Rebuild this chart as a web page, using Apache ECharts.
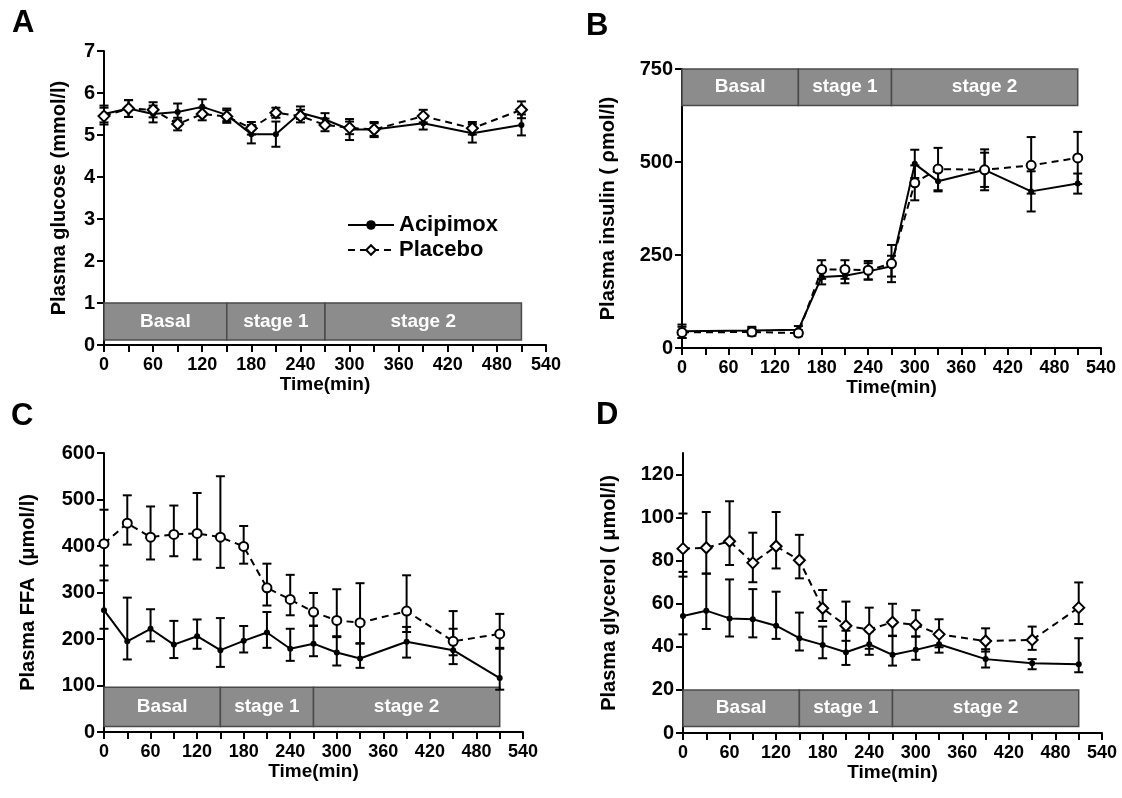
<!DOCTYPE html>
<html><head><meta charset="utf-8">
<script src="https://cdn.jsdelivr.net/npm/echarts@6/dist/echarts.min.js"></script>
<style>html,body{margin:0;padding:0;background:#fff}#c{width:1122px;height:798px}</style>
</head><body><div id="c"></div>
<script>
// ---------- data ----------
const timesFull = [0,30,60,90,120,150,180,210,240,270,300,330,390,450,510];
const timesIns  = [0,90,150,180,210,240,270,300,330,390,450,510];

const stageNames  = ['Basal','stage 1','stage 2'];
const stageBounds = [0,150,270,510];

// A: plasma glucose (mmol/l)
const gluAci    = [5.50,5.63,5.50,5.55,5.67,5.48,5.02,5.02,5.53,5.37,5.13,5.13,5.28,5.04,5.24];
const gluAciErr = [0.20,0.20,0.20,0.20,0.18,0.15,0.22,0.30,0.15,0.15,0.25,0.18,0.15,0.22,0.25];
const gluPla    = [5.45,5.63,5.60,5.26,5.50,5.44,5.16,5.53,5.45,5.24,5.17,5.13,5.45,5.16,5.60];
const gluPlaErr = [0.20,0.20,0.18,0.15,0.15,0.15,0.15,0.12,0.15,0.15,0.15,0.15,0.15,0.15,0.20];

// B: plasma insulin (pmol/l)
const insAci    = [45,47,49,191,194,206,220,495,448,479,421,442];
const insAciErr = [18,10,10,20,20,22,28,38,27,46,54,27];
const insPla    = [42,43,40,211,211,209,227,444,481,479,491,511];
const insPlaErr = [15,10,8,25,25,25,50,47,57,55,76,70];

// C: plasma FFA (umol/l)
const ffaAci   = [262,195,222,188,206,176,196,214,179,190,171,158,194,176,116];
const ffaAciUp = [64,94,42,51,36,69,32,44,43,38,35,33,32,46,65];
const ffaAciDn = [40,39,27,29,27,36,25,33,26,27,28,20,34,30,25];
const ffaPla   = [405,449,419,425,427,419,399,310,285,258,240,235,260,195,211];
const ffaPlaUp = [73,60,66,62,87,131,44,52,53,41,67,85,77,65,43];
const ffaPlaDn = [47,46,48,47,56,66,37,38,34,29,36,45,45,30,32];

// D: plasma glycerol (umol/l)
const glyAci   = [54.3,56.8,53.2,52.8,49.8,44.0,40.9,37.5,41.2,36.3,38.6,41.2,34.3,32.4,31.9];
const glyAciUp = [20.5,17.2,18.1,14.0,15.8,11.9,8.5,10.0,6.0,8.9,6.2,4.0,4.6,1.9,12.1];
const glyAciDn = [8.5,8.5,8.4,8.4,6.1,5.7,6.2,5.9,4.9,5.0,4.6,3.9,3.9,2.8,3.7];
const glyPla   = [85.6,86.0,89.0,79.0,86.7,80.2,57.9,49.8,48.1,51.4,50.2,45.8,42.7,43.2,58.2];
const glyPlaUp = [16.3,16.6,18.6,14.0,15.9,11.8,8.5,11.2,10.1,8.6,6.8,7.0,5.9,6.2,11.7];
const glyPlaDn = [13.0,12.0,11.0,9.0,10.3,8.4,5.9,7.0,9.0,6.4,5.4,6.0,4.9,4.6,7.6];

// ---------- chart ----------
const FONT = '"Liberation Sans", Arial, Helvetica, sans-serif';

const panels = [
  {grid:{left:104, top:51, width:442, height:294}, yMax:7, yInt:1, yTicks:[0,1,2,3,4,5,6,7],
   yName:'Plasma glucose (mmol/l)', nameGap:35, band:[0.12,1.0], symbol:'diamond',
   times:timesFull, aci:[gluAci,gluAciErr,gluAciErr], pla:[gluPla,gluPlaErr,gluPlaErr]},
  {grid:{left:682, top:69, width:419, height:279}, yMax:750, yInt:250, yTicks:[0,250,500,750],
   yName:'Plasma insulin ( \u03c1mol/l)', nameGap:64, band:[652,750], symbol:'circle',
   times:timesIns, aci:[insAci,insAciErr,insAciErr], pla:[insPla,insPlaErr,insPlaErr]},
  {grid:{left:104, top:453, width:419, height:279}, yMax:600, yInt:100, yTicks:[0,100,200,300,400,500,600],
   yName:'Plasma FFA  (\u03bcmol/l)', nameGap:66, band:[12,96], symbol:'circle',
   times:timesFull, aci:[ffaAci,ffaAciUp,ffaAciDn], pla:[ffaPla,ffaPlaUp,ffaPlaDn]},
  {grid:{left:683, top:453, width:419, height:280}, yMax:130, yInt:20, yTicks:[0,20,40,60,80,100,120],
   yName:'Plasma glycerol ( \u03bcmol/l)', nameGap:64, band:[3,20], symbol:'diamond',
   times:timesFull, aci:[glyAci,glyAciUp,glyAciDn], pla:[glyPla,glyPlaUp,glyPlaDn]}
];

function errSeries(gi, name, times, mean, up, dn) {
  return {
    type:'custom', name:name, xAxisIndex:gi, yAxisIndex:gi, z:3, silent:true,
    data: times.map((t,i)=>[t, mean[i]-dn[i], mean[i]+up[i]]),
    encode:{x:0, y:[1,2]},
    renderItem(params, api) {
      const lo = api.coord([api.value(0), api.value(1)]);
      const hi = api.coord([api.value(0), api.value(2)]);
      const w = 4.5;
      const style = {stroke:'#000', lineWidth:2, fill:null};
      return {type:'group', children:[
        {type:'line', shape:{x1:lo[0],y1:lo[1],x2:hi[0],y2:hi[1]}, style:style},
        {type:'line', shape:{x1:lo[0]-w,y1:lo[1],x2:lo[0]+w,y2:lo[1]}, style:style},
        {type:'line', shape:{x1:hi[0]-w,y1:hi[1],x2:hi[0]+w,y2:hi[1]}, style:style}
      ]};
    }
  };
}

function lineSeries(gi, name, times, mean, placebo, symbol, band) {
  const s = {
    type:'line', name:name, xAxisIndex:gi, yAxisIndex:gi, z:4,
    data: times.map((t,i)=>[t, mean[i]]),
    symbol: placebo ? symbol : 'circle',
    symbolSize: placebo ? (symbol==='diamond'?11:9) : 6,
    showAllSymbol:true,
    lineStyle:{color:'#000', width:2, type: placebo ? [7,5] : 'solid'},
    itemStyle:{color: placebo ? '#fff' : '#000', borderColor:'#000', borderWidth: placebo ? 2 : 0},
    emphasis:{disabled:true}, animation:false
  };
  if (band) {
    s.markArea = {
      silent:true, z:1,
      itemStyle:{color:'#8c8c8c', borderColor:'#4a4a4a', borderWidth:1.5, opacity:1},
      label:{show:true, position:'inside', color:'#fff', fontWeight:'bold', fontSize:19, fontFamily:FONT},
      data: stageNames.map((n,i)=>[
        {name:n, xAxis:stageBounds[i], yAxis:band[0]},
        {xAxis:stageBounds[i+1], yAxis:band[1]}
      ])
    };
  }
  return s;
}

const grids=[], xAxes=[], yAxes=[], series=[];
panels.forEach((p,gi)=>{
  grids.push(Object.assign({containLabel:false}, p.grid));
  xAxes.push({
    type:'value', gridIndex:gi, min:0, max:540, interval:60,
    axisLine:{show:true, onZero:false, lineStyle:{color:'#000', width:2}},
    axisTick:{show:true, inside:false, length:7, lineStyle:{color:'#000', width:2}},
    minorTick:{show:true, splitNumber:2, length:7, lineStyle:{color:'#000', width:2}},
    splitLine:{show:false}, minorSplitLine:{show:false},
    axisLabel:{color:'#000', fontWeight:'bold', fontSize:18, fontFamily:FONT, margin:11, hideOverlap:false},
    name:'Time(min)', nameLocation:'middle', nameGap:30,
    nameTextStyle:{color:'#000', fontWeight:'bold', fontSize:19, fontFamily:FONT}
  });
  yAxes.push({
    type:'value', gridIndex:gi, min:0, max:p.yMax, interval:p.yInt,
    axisLine:{show:true, onZero:false, lineStyle:{color:'#000', width:2}},
    axisTick:{show:true, inside:false, length:7, lineStyle:{color:'#000', width:2}, customValues:p.yTicks},
    splitLine:{show:false},
    axisLabel:{color:'#000', fontWeight:'bold', fontSize:20, fontFamily:FONT, margin:9, customValues:p.yTicks, hideOverlap:false},
    name:p.yName, nameLocation:'middle', nameRotate:90, nameGap:p.nameGap,
    nameTextStyle:{color:'#000', fontWeight:'bold', fontSize:20, fontFamily:FONT}
  });
  series.push(errSeries(gi, 'errA'+gi, p.times, p.aci[0], p.aci[1], p.aci[2]));
  series.push(errSeries(gi, 'errP'+gi, p.times, p.pla[0], p.pla[1], p.pla[2]));
  series.push(lineSeries(gi, 'Acipimox', p.times, p.aci[0], false, p.symbol, p.band));
  series.push(lineSeries(gi, 'Placebo', p.times, p.pla[0], true, p.symbol, null));
});

const letters = [['A',12,8],['B',586,11],['C',11,401],['D',596,400]];

const chart = echarts.init(document.getElementById('c'), null, {renderer:'canvas'});
chart.setOption({
  animation:false,
  backgroundColor:'#fff',
  grid:grids, xAxis:xAxes, yAxis:yAxes, series:series,
  legend:{
    data:['Acipimox','Placebo'], orient:'vertical', left:342, top:209,
    itemWidth:46, itemHeight:12, itemGap:3, selectedMode:false,
    textStyle:{color:'#000', fontWeight:'bold', fontSize:22, fontFamily:FONT}
  },
  graphic: letters.map(l=>({
    type:'text', left:l[1], top:l[2],
    style:{text:l[0], fill:'#000', font:'bold 31px '+FONT}
  }))
});
</script>
</body></html>
